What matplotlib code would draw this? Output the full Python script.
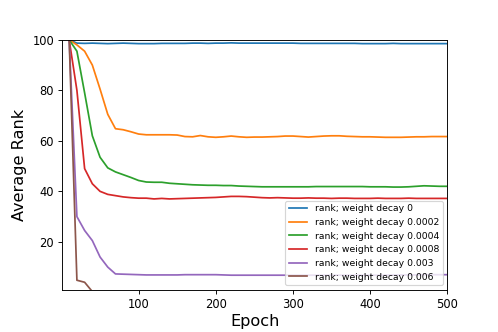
import numpy as np
import matplotlib
matplotlib.use("Agg")
import matplotlib.pyplot as plt

# Epochs logged every 10 steps
epochs = np.arange(10, 501, 10)

labels = [
    "rank; weight decay 0",
    "rank; weight decay 0.0002",
    "rank; weight decay 0.0004",
    "rank; weight decay 0.0008",
    "rank; weight decay 0.003",
    "rank; weight decay 0.006",
]

rank_wd0 = [100, 98.7, 98.6, 98.7, 98.6, 98.5, 98.6, 98.7, 98.6, 98.5,
            98.5, 98.5, 98.6, 98.6, 98.6, 98.6, 98.7, 98.7, 98.6, 98.7,
            98.7, 98.8, 98.7, 98.7, 98.7, 98.7, 98.7, 98.7, 98.7, 98.7,
            98.6, 98.6, 98.6, 98.6, 98.6, 98.6, 98.6, 98.6, 98.5, 98.5,
            98.5, 98.5, 98.6, 98.5, 98.5, 98.5, 98.5, 98.5, 98.5, 98.5]

rank_wd0002 = [100, 98, 95.5, 90, 80.5, 70.5, 64.8, 64.4, 63.6, 62.7,
               62.4, 62.4, 62.4, 62.4, 62.3, 61.7, 61.6, 62.1, 61.6, 61.4,
               61.6, 61.9, 61.6, 61.4, 61.5, 61.5, 61.6, 61.7, 61.9, 61.9,
               61.7, 61.5, 61.7, 61.9, 62.0, 62.0, 61.8, 61.7, 61.6, 61.6,
               61.5, 61.4, 61.4, 61.4, 61.5, 61.6, 61.6, 61.7, 61.7, 61.7]

rank_wd0004 = [100, 95.5, 79, 62, 53.5, 49.3, 47.7, 46.6, 45.5, 44.3,
               43.7, 43.6, 43.6, 43.2, 43.0, 42.8, 42.6, 42.5, 42.4, 42.4,
               42.3, 42.3, 42.1, 42.0, 41.9, 41.8, 41.8, 41.8, 41.8, 41.8,
               41.8, 41.8, 41.9, 41.9, 41.9, 41.9, 41.9, 41.9, 41.9, 41.8,
               41.8, 41.8, 41.7, 41.7, 41.8, 42.0, 42.2, 42.1, 42.0, 42.0]

rank_wd0008 = [100, 80, 49, 43, 40, 38.8, 38.3, 37.8, 37.5, 37.3,
               37.3, 37.0, 37.2, 37.0, 37.1, 37.2, 37.3, 37.4, 37.5, 37.6,
               37.8, 38.0, 38.0, 37.9, 37.7, 37.5, 37.4, 37.5, 37.4, 37.3,
               37.3, 37.4, 37.3, 37.3, 37.2, 37.3, 37.3, 37.2, 37.2, 37.2,
               37.3, 37.2, 37.2, 37.2, 37.3, 37.2, 37.2, 37.2, 37.2, 37.2]

rank_wd003 = [100, 30, 24.5, 20.5, 14, 10, 7.3, 7.2, 7.1, 7.0,
              6.9, 6.9, 6.9, 6.9, 6.9, 7.0, 7.0, 7.0, 7.0, 7.0,
              6.9, 6.8, 6.8, 6.8, 6.8, 6.8, 6.8, 6.8, 6.8, 6.8,
              6.8, 6.8, 6.8, 6.8, 6.8, 6.8, 6.8, 6.8, 6.8, 6.8,
              6.8, 6.8, 6.9, 6.9, 6.9, 6.9, 7.0, 7.0, 7.0, 7.0]

rank_wd006 = [100, 4.8, 4.0, 0.3, 0.3, 0.3, 0.3, 0.3, 0.3, 0.3,
              0.3, 0.3, 0.3, 0.3, 0.3, 0.3, 0.3, 0.3, 0.3, 0.3,
              0.3, 0.3, 0.3, 0.3, 0.3, 0.3, 0.3, 0.3, 0.3, 0.3,
              0.3, 0.3, 0.3, 0.3, 0.3, 0.3, 0.3, 0.3, 0.3, 0.3,
              0.3, 0.3, 0.3, 0.3, 0.3, 0.3, 0.3, 0.3, 0.3, 0.3]

series = [rank_wd0, rank_wd0002, rank_wd0004, rank_wd0008, rank_wd003, rank_wd006]

fig, ax = plt.subplots(figsize=(6, 4), dpi=83)
fig.subplots_adjust(left=0.125, right=0.898, top=0.88, bottom=0.127)

for vals, lab in zip(series, labels):
    ax.plot(epochs, vals, label=lab)

ax.set_xlim(1, 500)
ax.set_ylim(1, 100)
ax.tick_params(labelsize=10)
ax.set_xlabel("Epoch", fontsize=14, labelpad=3)
ax.set_ylabel("Average Rank", fontsize=14, labelpad=5)
ax.legend(loc="lower right", fontsize=8)

fig.savefig("out.png", dpi=83)
